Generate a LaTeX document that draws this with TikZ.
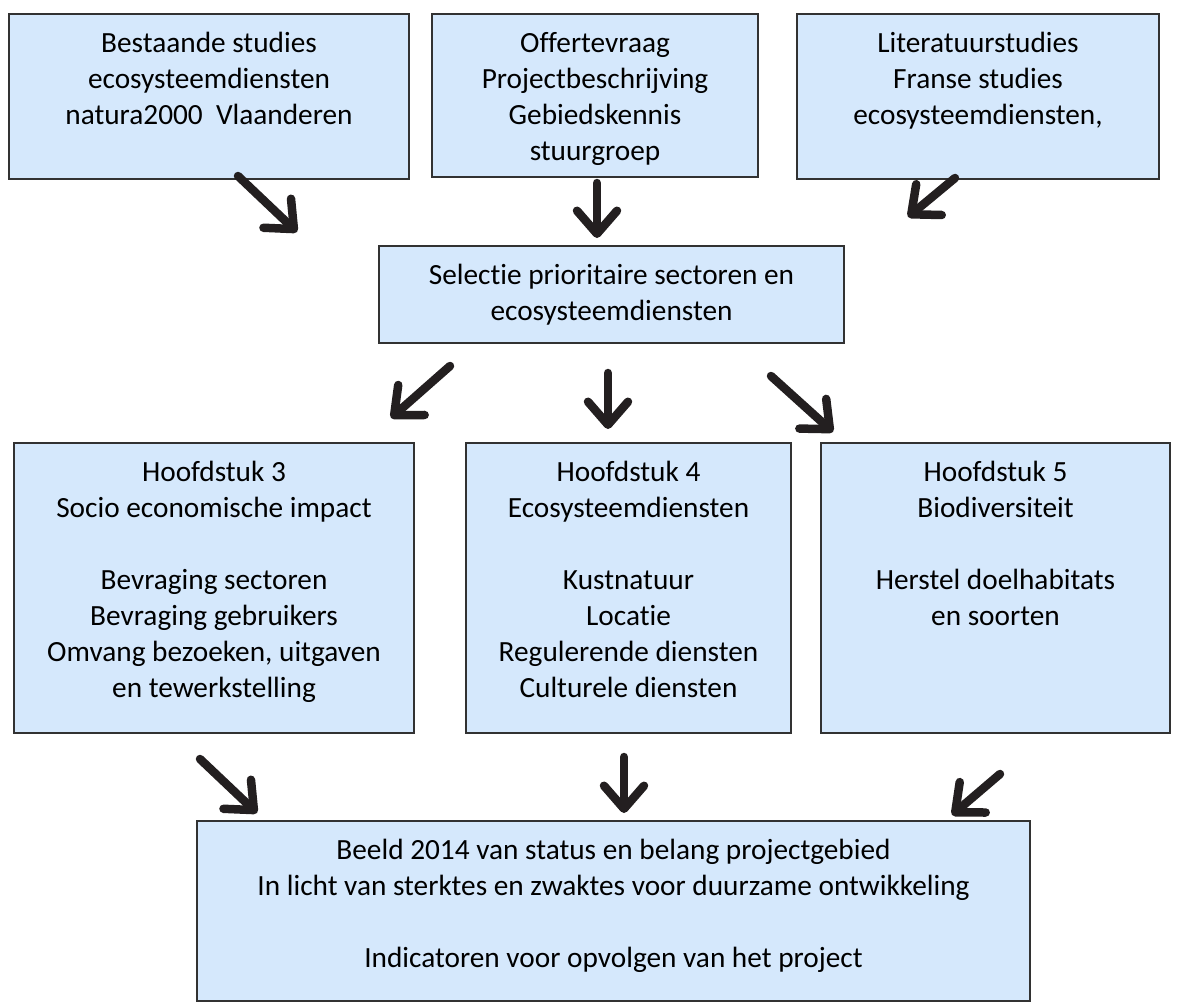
\documentclass[tikz,border=0pt]{standalone}
\usepackage{fontspec}
\setmainfont{Carlito}[Ligatures={NoCommon}]
\usepackage{tikz}
\usetikzlibrary{calc}
\usetikzlibrary{positioning,arrows.meta}

\definecolor{boxfill}{RGB}{213,232,252}
\definecolor{boxline}{RGB}{50,50,50}
\definecolor{arrowcol}{RGB}{35,31,32}

\begin{document}
\begin{tikzpicture}[x=1pt, y=-1pt,
        box/.style={rectangle, draw=boxline, fill=boxfill, line width=1.5pt, inner sep=0pt},
        txt/.style={align=center, inner sep=0pt, font=\fontsize{29.3}{36}\selectfont},
        bigarrow/.style={-{Straight Barb[length=23pt, width=40pt, line cap=round, line join=round]}, line width=8.5pt, color=arrowcol, line cap=round}]
        \useasboundingbox (0,0) rectangle (1184,1005);

        %% Sources
        \node[box, minimum width=400pt, minimum height=165pt] (A) at (209,96.5) {};
        \node[txt, below=13.8pt of A.north] (At) {\strut Bestaande studies\\ecosysteemdiensten\\natura2000~ Vlaanderen};
        \node[box, minimum width=326pt, minimum height=163pt] (B) at (595,95.5) {};
        \node[txt, below=13.8pt of B.north] (Bt) {\strut Offertevraag\\Projectbeschrijving\\Gebiedskennis\\stuurgroep};
        \node[box, minimum width=362pt, minimum height=165pt] (C) at (978,96.5) {};
        \node[txt, below=13.8pt of C.north] (Ct) {\strut Literatuurstudies\\Franse studies\\ecosysteemdiensten,};

        %% Selection
        \node[box, minimum width=465pt, minimum height=97pt] (S) at (611.5,294.5) {};
        \node[txt, below=13.8pt of S.north] (St) {\strut Selectie prioritaire sectoren en\\ecosysteemdiensten};

        %% Chapters
        \node[box, minimum width=400pt, minimum height=290pt] (D) at (214,588) {};
        \node[txt, below=13.8pt of D.north] (Dt) {\strut Hoofdstuk 3\\Socio economische impact\\[36pt]Bevraging sectoren\\Bevraging gebruikers\\Omvang bezoeken, uitgaven\\en tewerkstelling};
        \node[box, minimum width=325pt, minimum height=290pt] (E) at (628.5,588) {};
        \node[txt, below=13.8pt of E.north] (Et) {\strut Hoofdstuk 4\\Ecosysteemdiensten\\[36pt]Kustnatuur\\Locatie\\Regulerende diensten\\Culturele diensten};
        \node[box, minimum width=349pt, minimum height=290pt] (F) at (995.5,588) {};
        \node[txt, below=13.8pt of F.north] (Ft) {\strut Hoofdstuk 5\\Biodiversiteit\\[36pt]Herstel doelhabitats\\en soorten};

        %% Result
        \node[box, minimum width=833pt, minimum height=180pt] (G) at (613.5,911) {};
        \node[txt, below=13.8pt of G.north] (Gt) {\strut Beeld 2014 van status en belang projectgebied\\In licht van sterktes en zwaktes voor duurzame ontwikkeling\\[36pt]Indicatoren voor opvolgen van het project};

        %% Arrow ends
        \coordinate (p1) at (238,176);  \coordinate (q1) at (297,232);
        \coordinate (p2) at (597,183);  \coordinate (q2) at (597,238);
        \coordinate (p3) at (955,178);  \coordinate (q3) at (908,217);
        \coordinate (p4) at (450,366);  \coordinate (q4) at (391,418);
        \coordinate (p5) at (608,373);  \coordinate (q5) at (608,429);
        \coordinate (p6) at (771,376);  \coordinate (q6) at (833,432);
        \coordinate (p7) at (200,759);  \coordinate (q7) at (257,813);
        \coordinate (p8) at (624,757);  \coordinate (q8) at (624,813);
        \coordinate (p9) at (1000,774); \coordinate (q9) at (952,815);

        \draw[bigarrow] (p1) -- (q1);
        \draw[bigarrow] (p2) -- (q2);
        \draw[bigarrow] (p3) -- (q3);
        \draw[bigarrow] (p4) -- (q4);
        \draw[bigarrow] (p5) -- (q5);
        \draw[bigarrow] (p6) -- (q6);
        \draw[bigarrow] (p7) -- (q7);
        \draw[bigarrow] (p8) -- (q8);
        \draw[bigarrow] (p9) -- (q9);
\end{tikzpicture}
\end{document}
